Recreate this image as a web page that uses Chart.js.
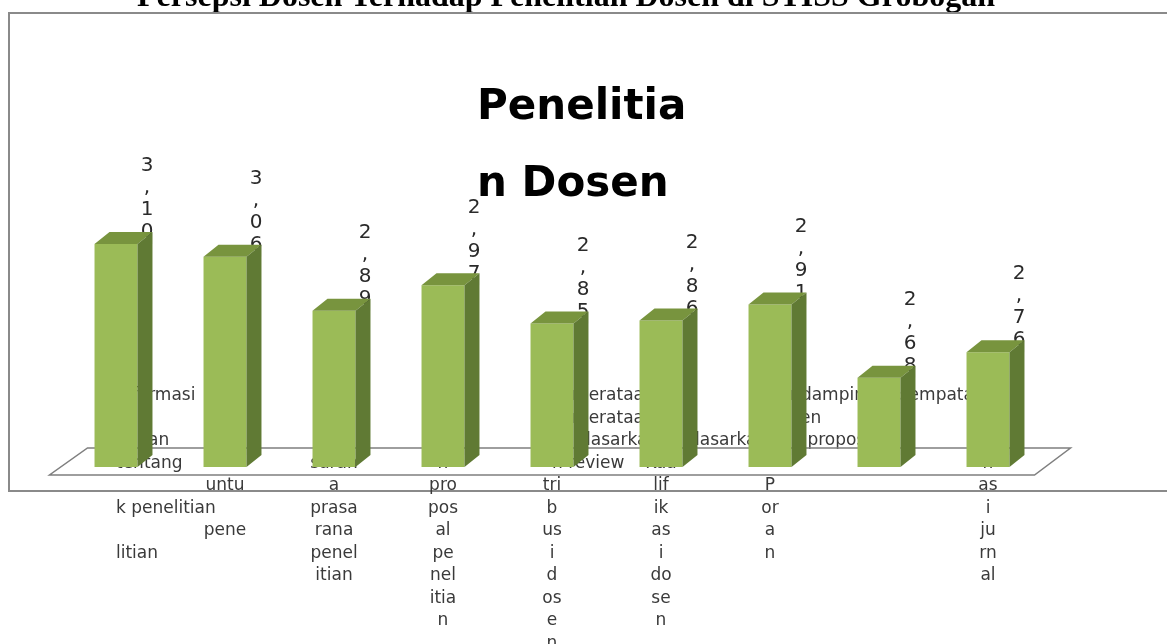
<!DOCTYPE html>
<html>
<head>
<meta charset="utf-8">
<script src="https://cdn.jsdelivr.net/npm/chart.js@4.4.1/dist/chart.umd.min.js"></script>
<style>
  body { margin: 0; background: #fff; }
  #wrap { width: 1167px; height: 644px; }
</style>
</head>
<body>
<div id="wrap"><canvas id="chart" width="1167" height="644"></canvas></div>
<script>
// label kategori: potongan yang rata tengah
const categories = [
  ["", "", "", "", "", "", "", ""],
  ["Dana", "khu", "sus", "", "untu", "", "pene", ""],
  ["", "", "", "saran", "a", "prasa", "rana", "penel", "itian"],
  ["Pe", "nil", "aia", "n", "pro", "pos", "al", "pe", "nel", "itia", "n"],
  ["", "", "", "", "tri", "b", "us", "i", "d", "os", "e", "n"],
  ["", "", "", "Kua", "lif", "ik", "as", "i", "do", "se", "n"],
  ["", "", "", "", "P", "or", "a", "n"],
  [""],
  ["Pub", "lik", "asi", "n", "as", "i", "ju", "rn", "al"]
];
// label kategori: potongan yang rata kiri
const categoriesWide = [
  ["Informasi", "", "bahan", "tentang", "", "k penelitian", "", "litian"],
  [""],
  [""],
  [""],
  ["Pemerataan", "Pemerataan", "berdasarkan", "n review"],
  ["", "", "berdasarkan"],
  ["Pendampingan", "dosen", "dan proposal"],
  ["Kesempatan"],
  [""]
];
// nilai rata-rata persepsi per butir
const scores = [3.10, 3.06, 2.89, 2.97, 2.85, 2.86, 2.91, 2.68, 2.76];
const scoreLabels = ["3,10", "3,06", "2,89", "2,97", "2,85", "2,86", "2,91", "2,68", "2,76"];
const axisMin = 2.4;
const axisMax = 3.2;

const FRONT = "rgb(155,187,87)";
const TOP = "rgb(120,148,62)";
const SIDE = "rgb(96,122,52)";
const DX = 15, DY = 12;
const tickFont = { family: "'DejaVu Sans'", size: 17, lineHeight: "22.5px" };

// bingkai, judul halaman dan judul grafik
const framePlugin = {
  id: "frame",
  beforeDraw(chart) {
    const ctx = chart.ctx;
    ctx.save();
    ctx.fillStyle = "#000";
    ctx.font = "bold 32px 'Liberation Serif'";
    ctx.textAlign = "center";
    ctx.textBaseline = "alphabetic";
    ctx.fillText("Persepsi Dosen Terhadap Penelitian Dosen di STISS Grobogan", 566, 6);

    ctx.strokeStyle = "#8a8a8a";
    ctx.lineWidth = 2;
    ctx.strokeRect(9, 13, 1180, 478);

    ctx.font = "bold 42px 'DejaVu Sans'";
    ctx.textAlign = "left";
    ctx.fillText("Penelitia", 477, 119);
    ctx.fillText("n Dosen", 477, 196);
    ctx.restore();
  }
};

// lantai 3D dan label nilai (digambar di belakang batang)
const floorPlugin = {
  id: "floor",
  beforeDatasetsDraw(chart) {
    const ctx = chart.ctx;
    const a = chart.chartArea;
    ctx.save();
    ctx.strokeStyle = "#7f7f7f";
    ctx.lineWidth = 1.5;
    ctx.beginPath();
    ctx.moveTo(a.left - 12, a.bottom + 8);
    ctx.lineTo(a.right - 8, a.bottom + 8);
    ctx.lineTo(a.right + 28, a.bottom - 19);
    ctx.lineTo(a.left + 26, a.bottom - 19);
    ctx.closePath();
    ctx.stroke();

    ctx.fillStyle = "#2a2a2a";
    ctx.font = "20px 'DejaVu Sans'";
    ctx.textAlign = "center";
    ctx.textBaseline = "middle";
    chart.getDatasetMeta(0).data.forEach((bar, i) => {
      const chars = scoreLabels[i].split("");
      chars.forEach((ch, k) => {
        ctx.fillText(ch, bar.x + 31, bar.y - 78 + k * 22);
      });
    });
    ctx.restore();
  },
  afterDatasetsDraw(chart) {
    const ctx = chart.ctx;
    const b = chart.chartArea.bottom;
    ctx.save();
    chart.getDatasetMeta(0).data.forEach((bar) => {
      const l = bar.x - bar.width / 2;
      const r = bar.x + bar.width / 2;
      const t = bar.y;
      ctx.fillStyle = TOP;
      ctx.beginPath();
      ctx.moveTo(l, t);
      ctx.lineTo(l + DX, t - DY);
      ctx.lineTo(r + DX, t - DY);
      ctx.lineTo(r, t);
      ctx.closePath();
      ctx.fill();
      ctx.fillStyle = SIDE;
      ctx.beginPath();
      ctx.moveTo(r, t);
      ctx.lineTo(r + DX, t - DY);
      ctx.lineTo(r + DX, b - DY);
      ctx.lineTo(r, b);
      ctx.closePath();
      ctx.fill();
    });
    ctx.restore();
  }
};

function flatAxis(height) {
  return (scale) => {
    scale.height = height;
    scale.paddingLeft = 0;
    scale.paddingRight = 0;
  };
}

new Chart(document.getElementById("chart"), {
  type: "bar",
  data: {
    labels: categories,
    datasets: [{
      data: scores,
      backgroundColor: FRONT,
      borderWidth: 0,
      barPercentage: 0.394,
      categoryPercentage: 1
    }]
  },
  options: {
    responsive: false,
    animation: false,
    layout: { padding: { left: 61.5, right: 124.5, top: 212, bottom: 0 } },
    plugins: {
      legend: { display: false },
      tooltip: { enabled: false }
    },
    scales: {
      x: {
        grid: { display: false },
        border: { display: false },
        ticks: {
          autoSkip: false,
          maxRotation: 0,
          minRotation: 0,
          // mirror: label boleh naik ke atas sumbu tanpa terpotong
          mirror: true,
          padding: 60,
          color: "#3a3a3a",
          font: tickFont
        },
        afterFit: flatAxis(177)
      },
      x2: {
        type: "category",
        labels: categoriesWide,
        position: "bottom",
        weight: -1,
        offset: true,
        grid: { display: false },
        border: { display: false },
        ticks: {
          autoSkip: false,
          maxRotation: 0,
          minRotation: 0,
          mirror: true,
          align: "start",
          padding: 60,
          color: "#3a3a3a",
          font: tickFont
        },
        afterFit: flatAxis(0)
      },
      y: {
        display: false,
        min: axisMin,
        max: axisMax
      }
    }
  },
  plugins: [framePlugin, floorPlugin]
});
</script>
</body>
</html>
